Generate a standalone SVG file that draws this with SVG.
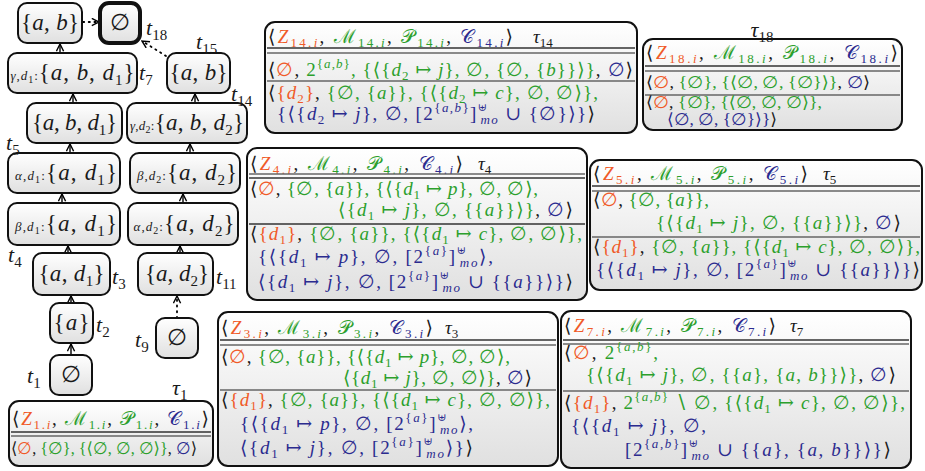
<svg xmlns="http://www.w3.org/2000/svg" width="925" height="471" viewBox="0 0 925 471">
<defs>
<linearGradient id="gf" x1="0" y1="0" x2="0" y2="1"><stop offset="0" stop-color="#ffffff"/><stop offset="1" stop-color="#e0e0e0"/></linearGradient>
<marker id="ah" viewBox="0 0 10 10" refX="9" refY="5" markerWidth="9" markerHeight="9" markerUnits="userSpaceOnUse" orient="auto"><path d="M1,1 L9,5 L1,9" fill="none" stroke="#000" stroke-width="1.6"/></marker>
<style>
.nd{fill:url(#gf);stroke:#111;stroke-width:2}
.bx{fill:url(#gf);stroke:#111;stroke-width:2}
.rl{stroke:#333;stroke-width:1.3}
.rl2{stroke:#666;stroke-width:1.3}
.ln{stroke:#000;stroke-width:1.4;fill:none;marker-end:url(#ah)}
.dt{stroke-dasharray:1.2 4.5;stroke-linecap:round;stroke-width:1.8}
text{font-family:"Liberation Serif","DejaVu Serif",serif;fill:#1a1a1a}
.tx{font-size:19px}
.tc{font-size:16.5px}
.nt{font-size:23px}
.tl{font-size:22px}
.pre{font-size:13px}
.i{font-style:italic}
.R{fill:#f05a28}
.G{fill:#2ca02c}
.B{fill:#2b2b8f}
.s{font-size:13px;baseline-shift:-4px}
.p{font-size:13px;baseline-shift:8px}
.u{font-size:11px;baseline-shift:9px}
.ts{font-size:15px;baseline-shift:-5px}
.ps{font-size:10px;baseline-shift:-3px}
</style>
</defs>

<g id="edges">
<line class="ln" x1="71" y1="355" x2="71" y2="344"/>
<line class="ln" x1="71" y1="303" x2="71" y2="296"/>
<line class="ln" x1="68" y1="253" x2="68" y2="246"/>
<line class="ln" x1="62" y1="203" x2="62" y2="194"/>
<line class="ln" x1="70" y1="153" x2="70" y2="144"/>
<line class="ln" x1="73" y1="103" x2="73" y2="94"/>
<line class="ln" x1="60" y1="53" x2="60" y2="44"/>
<line class="ln dt" x1="83" y1="22" x2="99" y2="22"/>
<line class="ln dt" x1="177" y1="318" x2="177" y2="296"/>
<line class="ln" x1="180" y1="253" x2="180" y2="246"/>
<line class="ln" x1="183" y1="203" x2="183" y2="194"/>
<line class="ln" x1="190" y1="153" x2="190" y2="144"/>
<line class="ln" x1="195" y1="103" x2="195" y2="94"/>
<line class="ln dt" x1="166" y1="56" x2="142" y2="41"/>
</g>

<g id="n_ab">
<rect class="nd" x="18" y="3" width="64" height="40" rx="9"/>
<text class="nt" x="50" y="30" text-anchor="middle" textLength="58">{<tspan class="i">a</tspan>, <tspan class="i">b</tspan>}</text>
</g>
<g id="n_t18">
<rect class="nd" x="100" y="3" width="40" height="40" rx="9" style="stroke-width:4"/>
<text class="nt" x="120" y="30" text-anchor="middle">∅</text>
<text class="tl" x="146" y="35"><tspan class="i">t</tspan><tspan class="ts">18</tspan></text>
</g>
<g id="n_t7">
<rect class="nd" x="8" y="53" width="129" height="40" rx="9"/>
<text class="nt" x="72.5" y="80" text-anchor="middle" textLength="124"><tspan class="pre i">γ</tspan><tspan class="pre">,</tspan><tspan class="pre i">d</tspan><tspan class="ps">1</tspan><tspan class="pre">:</tspan>{<tspan class="i">a</tspan>, <tspan class="i">b</tspan>, <tspan class="i">d</tspan><tspan class="ts">1</tspan>}</text>
<text class="tl" x="139" y="80"><tspan class="i">t</tspan><tspan class="ts">7</tspan></text>
</g>
<g id="n_t15">
<rect class="nd" x="167" y="53" width="63" height="40" rx="9"/>
<text class="nt" x="198.5" y="80" text-anchor="middle" textLength="58">{<tspan class="i">a</tspan>, <tspan class="i">b</tspan>}</text>
<text class="tl" x="196" y="49"><tspan class="i">t</tspan><tspan class="ts">15</tspan></text>
</g>
<g id="n_abd1">
<rect class="nd" x="27" y="103" width="95" height="40" rx="9"/>
<text class="nt" x="74.5" y="130" text-anchor="middle" textLength="85">{<tspan class="i">a</tspan>, <tspan class="i">b</tspan>, <tspan class="i">d</tspan><tspan class="ts">1</tspan>}</text>
</g>
<g id="n_t14">
<rect class="nd" x="127" y="103" width="120" height="40" rx="9"/>
<text class="nt" x="187" y="130" text-anchor="middle" textLength="114"><tspan class="pre i">γ</tspan><tspan class="pre">,</tspan><tspan class="pre i">d</tspan><tspan class="ps">2</tspan><tspan class="pre">:</tspan>{<tspan class="i">a</tspan>, <tspan class="i">b</tspan>, <tspan class="i">d</tspan><tspan class="ts">2</tspan>}</text>
<text class="tl" x="231" y="101"><tspan class="i">t</tspan><tspan class="ts">14</tspan></text>
</g>
<g id="n_t5">
<rect class="nd" x="8" y="153" width="112" height="40" rx="9"/>
<text class="nt" x="66" y="180" text-anchor="middle" textLength="102"><tspan class="pre i">α</tspan><tspan class="pre">,</tspan><tspan class="pre i">d</tspan><tspan class="ps">1</tspan><tspan class="pre">:</tspan>{<tspan class="i">a</tspan>, <tspan class="i">d</tspan><tspan class="ts">1</tspan>}</text>
<text class="tl" x="6" y="150"><tspan class="i">t</tspan><tspan class="ts">5</tspan></text>
</g>
<g id="n_bd2">
<rect class="nd" x="130" y="153" width="110" height="40" rx="9"/>
<text class="nt" x="187" y="180" text-anchor="middle" textLength="100"><tspan class="pre i">β</tspan><tspan class="pre">,</tspan><tspan class="pre i">d</tspan><tspan class="ps">2</tspan><tspan class="pre">:</tspan>{<tspan class="i">a</tspan>, <tspan class="i">d</tspan><tspan class="ts">2</tspan>}</text>
</g>
<g id="n_t4">
<rect class="nd" x="8" y="203" width="112" height="42" rx="9"/>
<text class="nt" x="66" y="231" text-anchor="middle" textLength="102"><tspan class="pre i">β</tspan><tspan class="pre">,</tspan><tspan class="pre i">d</tspan><tspan class="ps">1</tspan><tspan class="pre">:</tspan>{<tspan class="i">a</tspan>, <tspan class="i">d</tspan><tspan class="ts">1</tspan>}</text>
<text class="tl" x="8" y="262"><tspan class="i">t</tspan><tspan class="ts">4</tspan></text>
</g>
<g id="n_ad2a">
<rect class="nd" x="128" y="203" width="110" height="42" rx="9"/>
<text class="nt" x="184" y="231" text-anchor="middle" textLength="101"><tspan class="pre i">α</tspan><tspan class="pre">,</tspan><tspan class="pre i">d</tspan><tspan class="ps">2</tspan><tspan class="pre">:</tspan>{<tspan class="i">a</tspan>, <tspan class="i">d</tspan><tspan class="ts">2</tspan>}</text>
</g>
<g id="n_t3">
<rect class="nd" x="33" y="253" width="77" height="42" rx="9"/>
<text class="nt" x="71.5" y="281" text-anchor="middle" textLength="66">{<tspan class="i">a</tspan>, <tspan class="i">d</tspan><tspan class="ts">1</tspan>}</text>
<text class="tl" x="112" y="284"><tspan class="i">t</tspan><tspan class="ts">3</tspan></text>
</g>
<g id="n_t11">
<rect class="nd" x="138" y="253" width="75" height="42" rx="9"/>
<text class="nt" x="177" y="281" text-anchor="middle" textLength="64">{<tspan class="i">a</tspan>, <tspan class="i">d</tspan><tspan class="ts">2</tspan>}</text>
<text class="tl" x="216" y="284"><tspan class="i">t</tspan><tspan class="ts">11</tspan></text>
</g>
<g id="n_t2">
<rect class="nd" x="50" y="303" width="43" height="40" rx="9"/>
<text class="nt" x="71.5" y="330" text-anchor="middle" textLength="36">{<tspan class="i">a</tspan>}</text>
<text class="tl" x="96" y="332"><tspan class="i">t</tspan><tspan class="ts">2</tspan></text>
</g>
<g id="n_t9">
<rect class="nd" x="156" y="318" width="42" height="40" rx="9"/>
<text class="nt" x="177" y="345" text-anchor="middle">∅</text>
<text class="tl" x="135" y="347"><tspan class="i">t</tspan><tspan class="ts">9</tspan></text>
</g>
<g id="n_t1">
<rect class="nd" x="50" y="355" width="42" height="40" rx="9"/>
<text class="nt" x="71" y="382" text-anchor="middle">∅</text>
<text class="tl" x="27" y="383"><tspan class="i">t</tspan><tspan class="ts">1</tspan></text>
</g>

<g id="box_tau1">
<rect class="bx" x="9" y="401" width="204" height="65" rx="10"/>
<text class="tl" x="172" y="395"><tspan class="i">τ</tspan><tspan class="ts">1</tspan></text>
<text class="tx" x="12" y="425" textLength="197">⟨<tspan class="R"><tspan class="i">Z</tspan><tspan class="s">1.<tspan class="i">i</tspan></tspan></tspan>, <tspan class="G">ℳ<tspan class="s">1.<tspan class="i">i</tspan></tspan></tspan>, <tspan class="G">𝒫<tspan class="s">1.<tspan class="i">i</tspan></tspan></tspan>, <tspan class="B">𝒞<tspan class="s">1.<tspan class="i">i</tspan></tspan></tspan>⟩</text>
<line class="rl" x1="11" y1="432" x2="211" y2="432"/><line class="rl2" x1="11" y1="436" x2="211" y2="436"/>
<text class="tc" x="11" y="454" textLength="186" lengthAdjust="spacingAndGlyphs">⟨<tspan class="R">∅</tspan>, <tspan class="G">{∅}, {⟨∅, ∅, ∅⟩}</tspan>, <tspan class="B">∅</tspan>⟩</text>
</g>

<g id="box_tau14">
<rect class="bx" x="265" y="22" width="372" height="111" rx="10"/>
<text class="tx" x="268" y="43" textLength="245">⟨<tspan class="R"><tspan class="i">Z</tspan><tspan class="s">14.<tspan class="i">i</tspan></tspan></tspan>, <tspan class="G">ℳ<tspan class="s">14.<tspan class="i">i</tspan></tspan></tspan>, <tspan class="G">𝒫<tspan class="s">14.<tspan class="i">i</tspan></tspan></tspan>, <tspan class="B">𝒞<tspan class="s">14.<tspan class="i">i</tspan></tspan></tspan>⟩</text>
<text class="tx" x="533" y="43"><tspan class="i">τ</tspan><tspan class="s">14</tspan></text>
<line class="rl" x1="267" y1="48" x2="635" y2="48"/><line class="rl2" x1="267" y1="53" x2="635" y2="53"/>
<text class="tx" x="268" y="76" textLength="365">⟨<tspan class="R">∅</tspan>, <tspan class="G">2<tspan class="p">{<tspan class="i">a</tspan>,<tspan class="i">b</tspan>}</tspan>, {⟨{<tspan class="i">d</tspan><tspan class="s">2</tspan> ↦ <tspan class="i">j</tspan>}, ∅, {∅, {<tspan class="i">b</tspan>}}⟩}</tspan>, <tspan class="B">∅</tspan>⟩</text>
<line class="rl2" x1="267" y1="81" x2="635" y2="81"/>
<text class="tx" x="268" y="99" textLength="330">⟨<tspan class="R">{<tspan class="i">d</tspan><tspan class="s">2</tspan>}</tspan>, <tspan class="G">{∅, {<tspan class="i">a</tspan>}}, {⟨{<tspan class="i">d</tspan><tspan class="s">2</tspan> ↦ <tspan class="i">c</tspan>}, ∅, ∅⟩},</tspan></text>
<text class="tx" x="277" y="120" textLength="318"><tspan class="B">{⟨{<tspan class="i">d</tspan><tspan class="s">2</tspan> ↦ <tspan class="i">j</tspan>}, ∅, [2<tspan class="p">{<tspan class="i">a</tspan>,<tspan class="i">b</tspan>}</tspan>]<tspan class="u">⊎</tspan><tspan class="s i" dx="-8">mo</tspan> ∪ {∅}⟩}</tspan>⟩</text>
</g>

<g id="box_tau18">
<rect class="bx" x="643" y="39" width="259" height="91" rx="10"/>
<text class="tl" x="762" y="37" text-anchor="middle"><tspan class="i">τ</tspan><tspan class="ts">18</tspan></text>
<text class="tx" x="646" y="59" textLength="252">⟨<tspan class="R"><tspan class="i">Z</tspan><tspan class="s">18.<tspan class="i">i</tspan></tspan></tspan>, <tspan class="G">ℳ<tspan class="s">18.<tspan class="i">i</tspan></tspan></tspan>, <tspan class="G">𝒫<tspan class="s">18.<tspan class="i">i</tspan></tspan></tspan>, <tspan class="B">𝒞<tspan class="s">18.<tspan class="i">i</tspan></tspan></tspan>⟩</text>
<line class="rl" x1="645" y1="66" x2="900" y2="66"/><line class="rl2" x1="645" y1="71" x2="900" y2="71"/>
<text class="tc" x="646" y="88" textLength="224" lengthAdjust="spacingAndGlyphs">⟨<tspan class="R">∅</tspan>, <tspan class="G">{∅}, {⟨∅, ∅, {∅}⟩}</tspan>, <tspan class="B">∅</tspan>⟩</text>
<line class="rl2" x1="645" y1="95" x2="900" y2="95"/>
<text class="tc" x="646" y="108" textLength="176" lengthAdjust="spacingAndGlyphs">⟨<tspan class="R">∅</tspan>, <tspan class="G">{∅}, {⟨∅, ∅, ∅⟩},</tspan></text>
<text class="tc" x="667" y="125" textLength="110" lengthAdjust="spacingAndGlyphs"><tspan class="B">⟨∅, ∅, {∅}⟩}</tspan>⟩</text>
</g>

<g id="box_tau4">
<rect class="bx" x="247" y="148" width="340" height="152" rx="10"/>
<text class="tx" x="250" y="170" textLength="213">⟨<tspan class="R"><tspan class="i">Z</tspan><tspan class="s">4.<tspan class="i">i</tspan></tspan></tspan>, <tspan class="G">ℳ<tspan class="s">4.<tspan class="i">i</tspan></tspan></tspan>, <tspan class="G">𝒫<tspan class="s">4.<tspan class="i">i</tspan></tspan></tspan>, <tspan class="B">𝒞<tspan class="s">4.<tspan class="i">i</tspan></tspan></tspan>⟩</text>
<text class="tx" x="478" y="170"><tspan class="i">τ</tspan><tspan class="s">4</tspan></text>
<line class="rl2" x1="249" y1="174" x2="585" y2="174"/><line class="rl" x1="249" y1="178" x2="585" y2="178"/>
<text class="tx" x="250" y="195" textLength="288">⟨<tspan class="R">∅</tspan>, <tspan class="G">{∅, {<tspan class="i">a</tspan>}}, {⟨{<tspan class="i">d</tspan><tspan class="s">1</tspan> ↦ <tspan class="i">p</tspan>}, ∅, ∅⟩,</tspan></text>
<text class="tx" x="338" y="216" textLength="235"><tspan class="G">⟨{<tspan class="i">d</tspan><tspan class="s">1</tspan> ↦ <tspan class="i">j</tspan>}, ∅, {{<tspan class="i">a</tspan>}}⟩}</tspan>, <tspan class="B">∅</tspan>⟩</text>
<line class="rl" x1="249" y1="224" x2="585" y2="224"/>
<text class="tx" x="250" y="240" textLength="332">⟨<tspan class="R">{<tspan class="i">d</tspan><tspan class="s">1</tspan>}</tspan>, <tspan class="G">{∅, {<tspan class="i">a</tspan>}}, {⟨{<tspan class="i">d</tspan><tspan class="s">1</tspan> ↦ <tspan class="i">c</tspan>}, ∅, ∅⟩},</tspan></text>
<text class="tx" x="258" y="263" textLength="235"><tspan class="B">{⟨{<tspan class="i">d</tspan><tspan class="s">1</tspan> ↦ <tspan class="i">p</tspan>}, ∅, [2<tspan class="p">{<tspan class="i">a</tspan>}</tspan>]<tspan class="u">⊎</tspan><tspan class="s i" dx="-8">mo</tspan>⟩,</tspan></text>
<text class="tx" x="258" y="288" textLength="315"><tspan class="B">⟨{<tspan class="i">d</tspan><tspan class="s">1</tspan> ↦ <tspan class="i">j</tspan>}, ∅, [2<tspan class="p">{<tspan class="i">a</tspan>}</tspan>]<tspan class="u">⊎</tspan><tspan class="s i" dx="-8">mo</tspan> ∪ {{<tspan class="i">a</tspan>}}⟩}</tspan>⟩</text>
</g>

<g id="box_tau5">
<rect class="bx" x="590" y="160" width="332" height="130" rx="10"/>
<text class="tx" x="593" y="180" textLength="215">⟨<tspan class="R"><tspan class="i">Z</tspan><tspan class="s">5.<tspan class="i">i</tspan></tspan></tspan>, <tspan class="G">ℳ<tspan class="s">5.<tspan class="i">i</tspan></tspan></tspan>, <tspan class="G">𝒫<tspan class="s">5.<tspan class="i">i</tspan></tspan></tspan>, <tspan class="B">𝒞<tspan class="s">5.<tspan class="i">i</tspan></tspan></tspan>⟩</text>
<text class="tx" x="823" y="180"><tspan class="i">τ</tspan><tspan class="s">5</tspan></text>
<line class="rl" x1="592" y1="186" x2="920" y2="186"/><line class="rl2" x1="592" y1="191" x2="920" y2="191"/>
<text class="tx" x="593" y="206" textLength="116">⟨<tspan class="R">∅</tspan>, <tspan class="G">{∅, {<tspan class="i">a</tspan>}},</tspan></text>
<text class="tx" x="656" y="229" textLength="245"><tspan class="G">{⟨{<tspan class="i">d</tspan><tspan class="s">1</tspan> ↦ <tspan class="i">j</tspan>}, ∅, {{<tspan class="i">a</tspan>}}⟩}</tspan>, <tspan class="B">∅</tspan>⟩</text>
<line class="rl2" x1="592" y1="237" x2="920" y2="237"/>
<text class="tx" x="593" y="253" textLength="327">⟨<tspan class="R">{<tspan class="i">d</tspan><tspan class="s">1</tspan>}</tspan>, <tspan class="G">{∅, {<tspan class="i">a</tspan>}}, {⟨{<tspan class="i">d</tspan><tspan class="s">1</tspan> ↦ <tspan class="i">c</tspan>}, ∅, ∅⟩},</tspan></text>
<text class="tx" x="596" y="276" textLength="324"><tspan class="B">{⟨{<tspan class="i">d</tspan><tspan class="s">1</tspan> ↦ <tspan class="i">j</tspan>}, ∅, [2<tspan class="p">{<tspan class="i">a</tspan>}</tspan>]<tspan class="u">⊎</tspan><tspan class="s i" dx="-8">mo</tspan> ∪ {{<tspan class="i">a</tspan>}}⟩}</tspan>⟩</text>
</g>

<g id="box_tau3">
<rect class="bx" x="218" y="312" width="340" height="154" rx="10"/>
<text class="tx" x="221" y="334" textLength="212">⟨<tspan class="R"><tspan class="i">Z</tspan><tspan class="s">3.<tspan class="i">i</tspan></tspan></tspan>, <tspan class="G">ℳ<tspan class="s">3.<tspan class="i">i</tspan></tspan></tspan>, <tspan class="G">𝒫<tspan class="s">3.<tspan class="i">i</tspan></tspan></tspan>, <tspan class="B">𝒞<tspan class="s">3.<tspan class="i">i</tspan></tspan></tspan>⟩</text>
<text class="tx" x="445" y="334"><tspan class="i">τ</tspan><tspan class="s">3</tspan></text>
<line class="rl" x1="220" y1="340" x2="556" y2="340"/><line class="rl2" x1="220" y1="345" x2="556" y2="345"/>
<text class="tx" x="221" y="363" textLength="289">⟨<tspan class="R">∅</tspan>, <tspan class="G">{∅, {<tspan class="i">a</tspan>}}, {⟨{<tspan class="i">d</tspan><tspan class="s">1</tspan> ↦ <tspan class="i">p</tspan>}, ∅, ∅⟩,</tspan></text>
<text class="tx" x="343" y="384" textLength="189"><tspan class="G">⟨{<tspan class="i">d</tspan><tspan class="s">1</tspan> ↦ <tspan class="i">j</tspan>}, ∅, ∅⟩}</tspan>, <tspan class="B">∅</tspan>⟩</text>
<line class="rl2" x1="220" y1="390" x2="556" y2="390"/>
<text class="tx" x="221" y="406" textLength="329">⟨<tspan class="R">{<tspan class="i">d</tspan><tspan class="s">1</tspan>}</tspan>, <tspan class="G">{∅, {<tspan class="i">a</tspan>}}, {⟨{<tspan class="i">d</tspan><tspan class="s">1</tspan> ↦ <tspan class="i">c</tspan>}, ∅, ∅⟩},</tspan></text>
<text class="tx" x="240" y="430" textLength="233"><tspan class="B">{⟨{<tspan class="i">d</tspan><tspan class="s">1</tspan> ↦ <tspan class="i">p</tspan>}, ∅, [2<tspan class="p">{<tspan class="i">a</tspan>}</tspan>]<tspan class="u">⊎</tspan><tspan class="s i" dx="-8">mo</tspan>⟩,</tspan></text>
<text class="tx" x="240" y="454" textLength="233"><tspan class="B">⟨{<tspan class="i">d</tspan><tspan class="s">1</tspan> ↦ <tspan class="i">j</tspan>}, ∅, [2<tspan class="p">{<tspan class="i">a</tspan>}</tspan>]<tspan class="u">⊎</tspan><tspan class="s i" dx="-8">mo</tspan>⟩}</tspan>⟩</text>
</g>

<g id="box_tau7">
<rect class="bx" x="561" y="311" width="350" height="157" rx="10"/>
<text class="tx" x="564" y="332" textLength="212">⟨<tspan class="R"><tspan class="i">Z</tspan><tspan class="s">7.<tspan class="i">i</tspan></tspan></tspan>, <tspan class="G">ℳ<tspan class="s">7.<tspan class="i">i</tspan></tspan></tspan>, <tspan class="G">𝒫<tspan class="s">7.<tspan class="i">i</tspan></tspan></tspan>, <tspan class="B">𝒞<tspan class="s">7.<tspan class="i">i</tspan></tspan></tspan>⟩</text>
<text class="tx" x="790" y="332"><tspan class="i">τ</tspan><tspan class="s">7</tspan></text>
<line class="rl" x1="563" y1="340" x2="909" y2="340"/><line class="rl2" x1="563" y1="344" x2="909" y2="344"/>
<text class="tx" x="564" y="359" textLength="94">⟨<tspan class="R">∅</tspan>, <tspan class="G">2<tspan class="p">{<tspan class="i">a</tspan>,<tspan class="i">b</tspan>}</tspan>,</tspan></text>
<text class="tx" x="586" y="381" textLength="310"><tspan class="G">{⟨{<tspan class="i">d</tspan><tspan class="s">1</tspan> ↦ <tspan class="i">j</tspan>}, ∅, {{<tspan class="i">a</tspan>}, {<tspan class="i">a</tspan>, <tspan class="i">b</tspan>}}⟩}</tspan>, <tspan class="B">∅</tspan>⟩</text>
<line class="rl2" x1="563" y1="391" x2="909" y2="391"/>
<text class="tx" x="564" y="409" textLength="341">⟨<tspan class="R">{<tspan class="i">d</tspan><tspan class="s">1</tspan>}</tspan>, <tspan class="G">2<tspan class="p">{<tspan class="i">a</tspan>,<tspan class="i">b</tspan>}</tspan> ∖ ∅, {⟨{<tspan class="i">d</tspan><tspan class="s">1</tspan> ↦ <tspan class="i">c</tspan>}, ∅, ∅⟩},</tspan></text>
<text class="tx" x="571" y="432" textLength="135"><tspan class="B">{⟨{<tspan class="i">d</tspan><tspan class="s">1</tspan> ↦ <tspan class="i">j</tspan>}, ∅,</tspan></text>
<text class="tx" x="625" y="456" textLength="266"><tspan class="B">[2<tspan class="p">{<tspan class="i">a</tspan>,<tspan class="i">b</tspan>}</tspan>]<tspan class="u">⊎</tspan><tspan class="s i" dx="-8">mo</tspan> ∪ {{<tspan class="i">a</tspan>}, {<tspan class="i">a</tspan>, <tspan class="i">b</tspan>}}⟩}</tspan>⟩</text>
</g>
</svg>
